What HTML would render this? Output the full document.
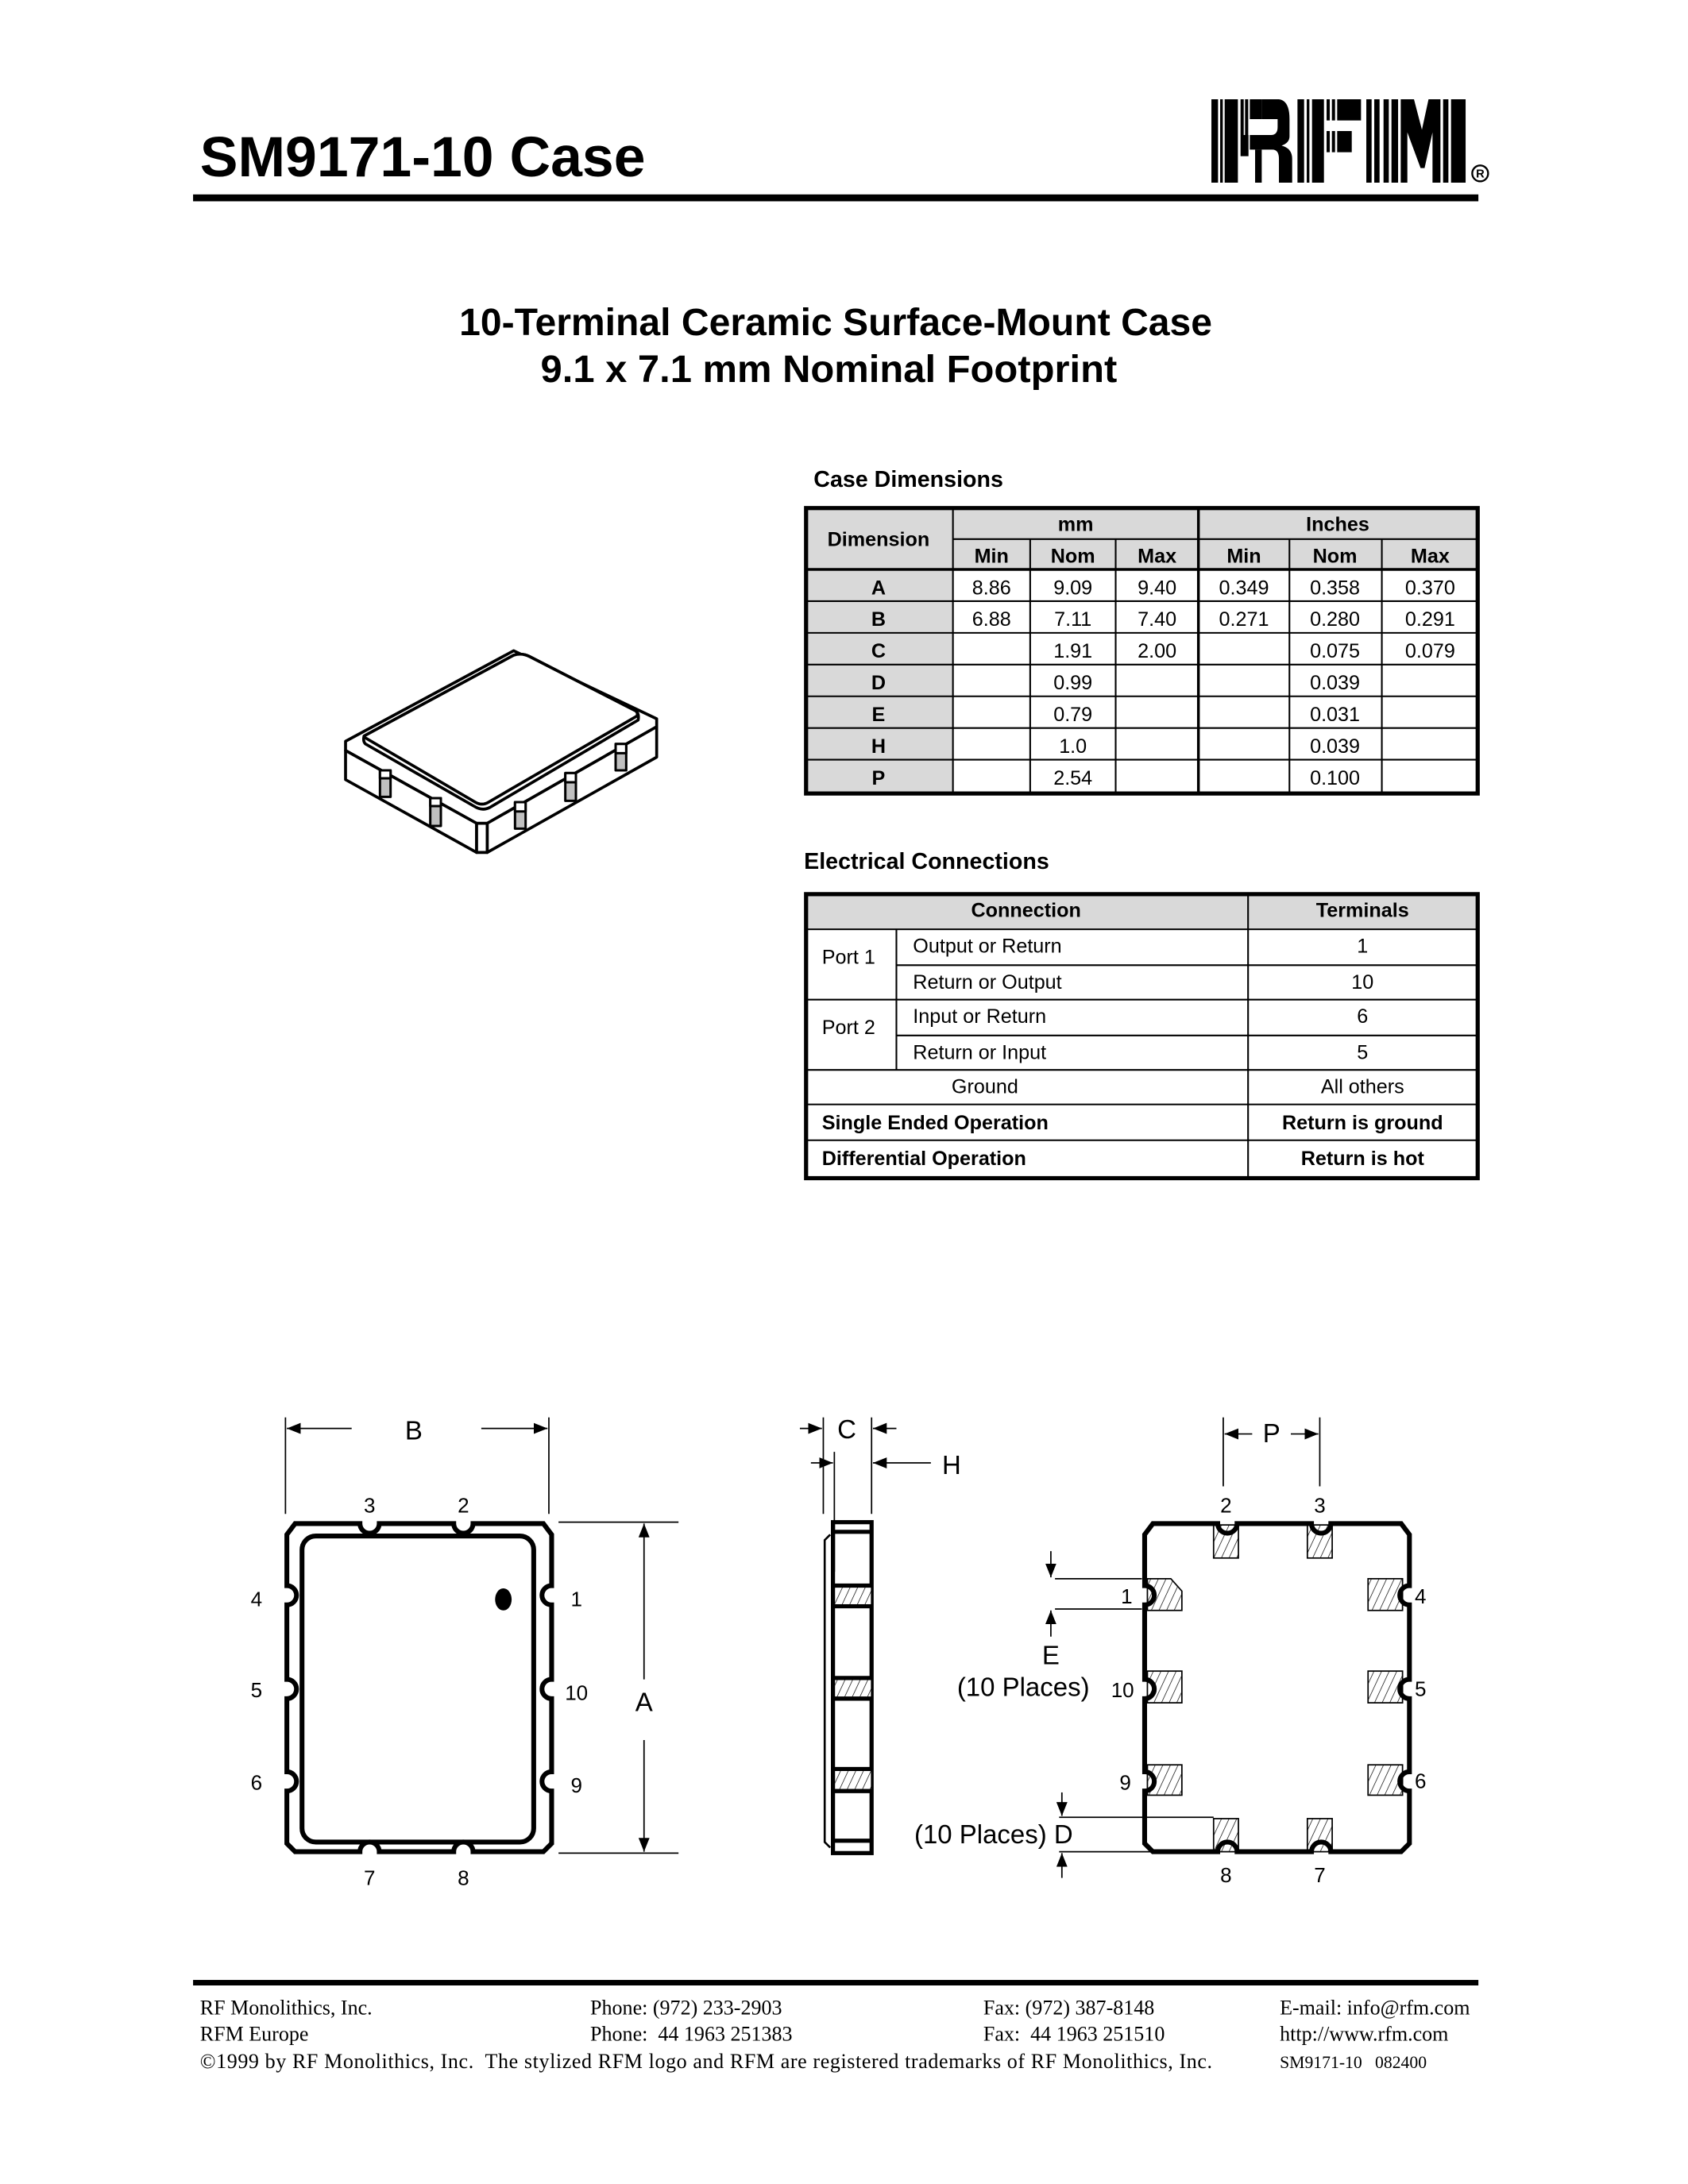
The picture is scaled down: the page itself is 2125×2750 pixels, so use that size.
<!DOCTYPE html>
<html><head><meta charset="utf-8"><style>
html,body{margin:0;padding:0;background:#fff}
svg{display:block}
text{font-family:"Liberation Sans",sans-serif}
.s{font-family:"Liberation Serif",serif;font-size:15px;white-space:pre}
</style></head><body>
<svg width="2125" height="2750" viewBox="0 0 1224 1584" xmlns="http://www.w3.org/2000/svg">
<defs>
<pattern id="h" width="5" height="5" patternUnits="userSpaceOnUse" patternTransform="rotate(25)">
<rect width="5" height="5" fill="#fff"/><line x1="0" y1="0" x2="0" y2="5" stroke="#000" stroke-width="0.8"/></pattern>
<marker id="ar" markerWidth="10" markerHeight="8" refX="10" refY="4" orient="auto" markerUnits="userSpaceOnUse"><path d="M0,0 L10,4 L0,8 Z" fill="#000"/></marker>
</defs>

<!-- Title -->
<text x="145" y="128" font-size="41" font-weight="bold" textLength="323" lengthAdjust="spacingAndGlyphs">SM9171-10 Case</text>
<!-- Logo -->
<g transform="translate(852.5,57.6) scale(0.192)" fill="#000">
<rect x="135" y="75" width="25" height="315"/><rect x="168" y="75" width="10" height="315"/><rect x="185" y="75" width="50" height="315"/>
<rect x="245" y="75" width="12" height="135"/><rect x="262" y="75" width="12" height="135"/><rect x="280" y="75" width="45" height="75"/>
<path d="M325,75 H390 Q430,80 430,150 V215 Q430,240 400,250 Q440,260 440,300 V390 H390 V300 Q390,265 365,265 H280 V210 H360 Q385,210 385,180 V150 H325 Z"/>
<rect x="245" y="210" width="30" height="80"/><rect x="300" y="265" width="25" height="125"/>
<rect x="460" y="75" width="25" height="315"/><rect x="495" y="75" width="10" height="315"/><rect x="515" y="75" width="45" height="315"/>
<rect x="570" y="75" width="12" height="80"/><rect x="590" y="75" width="12" height="80"/><rect x="610" y="75" width="90" height="80"/>
<rect x="570" y="195" width="12" height="80"/><rect x="590" y="195" width="12" height="80"/><rect x="610" y="195" width="55" height="80"/>
<rect x="720" y="75" width="20" height="315"/><rect x="750" y="75" width="20" height="315"/>
<rect x="785" y="75" width="20" height="315"/><rect x="815" y="75" width="25" height="315"/>
<path d="M850,75 H900 L930,190 L955,75 H1000 V390 H970 V200 L940,335 H925 L875,200 V390 H850 Z"/>
<rect x="1010" y="75" width="20" height="315"/><rect x="1040" y="75" width="55" height="315"/>
<circle cx="1150" cy="355" r="30" fill="none" stroke="#000" stroke-width="7"/>
<text x="1150" y="370" font-size="44" text-anchor="middle" font-weight="bold">R</text>
</g>
<rect x="140" y="141" width="932" height="5" fill="#000"/>

<!-- Subtitle -->
<text x="606" y="243" font-size="27.5" font-weight="bold" text-anchor="middle" textLength="546" lengthAdjust="spacingAndGlyphs">10-Terminal Ceramic Surface-Mount Case</text>
<text x="601" y="277" font-size="27.5" font-weight="bold" text-anchor="middle" textLength="418" lengthAdjust="spacingAndGlyphs">9.1 x 7.1 mm Nominal Footprint</text>

<!-- Isometric -->
<g transform="translate(230.4,449.3) scale(0.192)" stroke="#000" stroke-width="11" stroke-linejoin="round" fill="#fff">
<path d="M105,460 L740,118 L1280,375 L1280,405 L640,770 L600,770 L105,495 Z"/>
<path d="M105,495 L600,770 L600,880 L105,605 Z"/>
<path d="M640,770 L1280,405 L1280,520 L640,880 Z"/>
<path d="M600,770 H640 V880 H600 Z"/>
<path d="M175,440 L740,135 Q770,125 800,140 L1200,345 Q1215,355 1210,380 L650,710 Q620,725 590,705 L180,470 Q170,460 175,440 Z"/>
<path d="M175,440 L740,135 Q770,125 800,140 L1200,345 Q1212,352 1205,365 L645,690 Q620,705 595,690 L185,450 Q175,445 175,440 Z"/>
<g fill="#c0c0c0" stroke-width="9">
<rect x="235" y="570" width="40" height="100"/><rect x="425" y="675" width="40" height="105"/>
<rect x="745" y="690" width="40" height="100"/><rect x="935" y="580" width="40" height="105"/><rect x="1125" y="470" width="40" height="100"/>
</g>
<g fill="#fff" stroke-width="9">
<rect x="235" y="570" width="40" height="30"/><rect x="425" y="675" width="40" height="30"/>
<rect x="745" y="690" width="40" height="35"/><rect x="935" y="580" width="40" height="35"/><rect x="1125" y="470" width="40" height="35"/>
</g>
</g>

<!-- Case Dimensions table -->
<text x="590" y="353" font-size="16.5" font-weight="bold">Case Dimensions</text>
<g font-size="14.5">
<rect x="584" y="368" width="487" height="46" fill="#d9d9d9"/>
<rect x="584" y="414" width="107" height="161" fill="#d9d9d9"/>
<g stroke="#000" stroke-width="1.2">
<line x1="691" y1="391" x2="1072" y2="391"/>
<line x1="584" y1="413" x2="1072" y2="413" stroke-width="2"/>
<line x1="584" y1="436" x2="1072" y2="436"/><line x1="584" y1="459" x2="1072" y2="459"/>
<line x1="584" y1="482" x2="1072" y2="482"/><line x1="584" y1="505" x2="1072" y2="505"/>
<line x1="584" y1="528" x2="1072" y2="528"/><line x1="584" y1="551" x2="1072" y2="551"/>
<line x1="691" y1="368" x2="691" y2="575"/><line x1="869" y1="368" x2="869" y2="575" stroke-width="2"/>
<line x1="747" y1="391" x2="747" y2="575"/><line x1="809" y1="391" x2="809" y2="575"/>
<line x1="935" y1="391" x2="935" y2="575"/><line x1="1002" y1="391" x2="1002" y2="575"/>
</g>
<rect x="584.5" y="368.5" width="487" height="207" fill="none" stroke="#000" stroke-width="3"/>
<g font-weight="bold" text-anchor="middle">
<text x="637" y="396">Dimension</text><text x="780" y="385">mm</text><text x="970" y="385">Inches</text>
<text x="719" y="408">Min</text><text x="778" y="408">Nom</text><text x="839" y="408">Max</text>
<text x="902" y="408">Min</text><text x="968" y="408">Nom</text><text x="1037" y="408">Max</text>
<text x="637" y="431">A</text><text x="637" y="454">B</text><text x="637" y="477">C</text><text x="637" y="500">D</text>
<text x="637" y="523">E</text><text x="637" y="546">H</text><text x="637" y="569">P</text>
</g>
<g text-anchor="middle">
<text x="719" y="431">8.86</text><text x="778" y="431">9.09</text><text x="839" y="431">9.40</text><text x="902" y="431">0.349</text><text x="968" y="431">0.358</text><text x="1037" y="431">0.370</text>
<text x="719" y="454">6.88</text><text x="778" y="454">7.11</text><text x="839" y="454">7.40</text><text x="902" y="454">0.271</text><text x="968" y="454">0.280</text><text x="1037" y="454">0.291</text>
<text x="778" y="477">1.91</text><text x="839" y="477">2.00</text><text x="968" y="477">0.075</text><text x="1037" y="477">0.079</text>
<text x="778" y="500">0.99</text><text x="968" y="500">0.039</text>
<text x="778" y="523">0.79</text><text x="968" y="523">0.031</text>
<text x="778" y="546">1.0</text><text x="968" y="546">0.039</text>
<text x="778" y="569">2.54</text><text x="968" y="569">0.100</text>
</g>
</g>

<!-- Electrical Connections -->
<text x="583" y="630" font-size="16.5" font-weight="bold">Electrical Connections</text>
<g font-size="14.5">
<rect x="584" y="649" width="487" height="25" fill="#d9d9d9"/>
<g stroke="#000" stroke-width="1.2">
<line x1="584" y1="674" x2="1072" y2="674"/><line x1="650" y1="700" x2="1072" y2="700"/>
<line x1="584" y1="725" x2="1072" y2="725"/><line x1="650" y1="751" x2="1072" y2="751"/>
<line x1="584" y1="776" x2="1072" y2="776"/><line x1="584" y1="801" x2="1072" y2="801"/>
<line x1="584" y1="827" x2="1072" y2="827"/>
<line x1="650" y1="674" x2="650" y2="776"/><line x1="905" y1="649" x2="905" y2="855"/>
</g>
<rect x="584.5" y="648.5" width="487" height="206" fill="none" stroke="#000" stroke-width="3"/>
<text x="744" y="665" font-weight="bold" text-anchor="middle">Connection</text>
<text x="988" y="665" font-weight="bold" text-anchor="middle">Terminals</text>
<text x="596" y="699">Port 1</text><text x="596" y="750">Port 2</text>
<text x="662" y="691">Output or Return</text><text x="662" y="717">Return or Output</text>
<text x="662" y="742">Input or Return</text><text x="662" y="768">Return or Input</text>
<text x="690" y="793">Ground</text>
<g text-anchor="middle"><text x="988" y="691">1</text><text x="988" y="717">10</text><text x="988" y="742">6</text><text x="988" y="768">5</text><text x="988" y="793">All others</text>
<text x="988" y="819" font-weight="bold">Return is ground</text><text x="988" y="845" font-weight="bold">Return is hot</text></g>
<text x="596" y="819" font-weight="bold">Single Ended Operation</text>
<text x="596" y="845" font-weight="bold">Differential Operation</text>
</g>

<!-- Left package -->
<g fill="none" stroke="#000">
<path stroke-width="3.5" d="M214,1105 H261 A7,7 0 0 0 275,1105 H329 A7,7 0 0 0 343,1105 H394 L400,1113 V1150 A7,7 0 0 0 400,1164 V1218 A7,7 0 0 0 400,1232 V1285 A7,7 0 0 0 400,1299 V1337 L394,1343 H343 A7,7 0 0 0 329,1343 H275 A7,7 0 0 0 261,1343 H214 L208,1337 V1299 A7,7 0 0 0 208,1285 V1232 A7,7 0 0 0 208,1218 V1164 A7,7 0 0 0 208,1150 V1113 Z"/>
<rect x="219" y="1114" width="168" height="222" rx="10" stroke-width="3.5"/>
<g stroke-width="1">
<line x1="207" y1="1028" x2="207" y2="1098"/><line x1="398" y1="1028" x2="398" y2="1098"/>
<line x1="255" y1="1036" x2="208" y2="1036" marker-end="url(#ar)"/><line x1="349" y1="1036" x2="397" y2="1036" marker-end="url(#ar)"/>
<line x1="405" y1="1104" x2="492" y2="1104"/><line x1="405" y1="1344" x2="492" y2="1344"/>
<line x1="467" y1="1218" x2="467" y2="1105" marker-end="url(#ar)"/><line x1="467" y1="1262" x2="467" y2="1343" marker-end="url(#ar)"/>
</g>
</g>
<ellipse cx="365" cy="1160" rx="6" ry="8" fill="#000"/>
<g font-size="15" text-anchor="middle">
<text x="268" y="1097">3</text><text x="336" y="1097">2</text>
<text x="186" y="1165">4</text><text x="186" y="1231">5</text><text x="186" y="1298">6</text>
<text x="418" y="1165">1</text><text x="418" y="1233">10</text><text x="418" y="1300">9</text>
<text x="268" y="1367">7</text><text x="336" y="1367">8</text>
</g>
<g font-size="19" text-anchor="middle"><text x="300" y="1044">B</text><text x="467" y="1241">A</text></g>

<!-- Side view -->
<g fill="none" stroke="#000">
<path d="M602,1113 L598,1117 V1336 L602,1340" stroke-width="1.5"/>
<rect x="604" y="1104" width="28" height="240" stroke-width="3"/>
<g fill="url(#h)" stroke-width="1"><rect x="605" y="1150" width="27" height="14"/><rect x="605" y="1217" width="27" height="14"/><rect x="605" y="1283" width="27" height="15"/></g>
<g stroke-width="3"><line x1="604" y1="1111" x2="632" y2="1111"/><line x1="604" y1="1150" x2="632" y2="1150"/><line x1="604" y1="1165" x2="632" y2="1165"/>
<line x1="604" y1="1217" x2="632" y2="1217"/><line x1="604" y1="1232" x2="632" y2="1232"/><line x1="604" y1="1283" x2="632" y2="1283"/>
<line x1="604" y1="1299" x2="632" y2="1299"/><line x1="604" y1="1335" x2="632" y2="1335"/></g>
<g stroke-width="1">
<line x1="597" y1="1028" x2="597" y2="1098"/><line x1="632" y1="1028" x2="632" y2="1098"/><line x1="605" y1="1053" x2="605" y2="1140"/>
<line x1="580" y1="1036" x2="596" y2="1036" marker-end="url(#ar)"/><line x1="650" y1="1036" x2="633" y2="1036" marker-end="url(#ar)"/>
<line x1="588" y1="1061" x2="604" y2="1061" marker-end="url(#ar)"/><line x1="675" y1="1061" x2="633" y2="1061" marker-end="url(#ar)"/>
</g>
</g>
<g font-size="19" text-anchor="middle"><text x="614" y="1043">C</text><text x="690" y="1069">H</text></g>

<!-- Footprint -->
<g fill="none" stroke="#000">
<g fill="url(#h)" stroke-width="1">
<rect x="880" y="1106" width="18" height="24"/><rect x="948" y="1106" width="18" height="24"/>
<rect x="880" y="1319" width="18" height="24"/><rect x="948" y="1319" width="18" height="24"/>
<path d="M832,1145 H849 L857,1154 V1168 H832 Z"/><rect x="832" y="1212" width="25" height="23"/><rect x="832" y="1280" width="25" height="22"/>
<rect x="992" y="1145" width="25" height="23"/><rect x="992" y="1212" width="25" height="23"/><rect x="992" y="1280" width="25" height="22"/>
</g>
<path stroke-width="3.5" d="M836,1105 H883 A7,7 0 0 0 897,1105 H951 A7,7 0 0 0 965,1105 H1016 L1022,1113 V1150 A7,7 0 0 0 1022,1164 V1218 A7,7 0 0 0 1022,1232 V1285 A7,7 0 0 0 1022,1299 V1337 L1016,1343 H965 A7,7 0 0 0 951,1343 H897 A7,7 0 0 0 883,1343 H836 L830,1337 V1299 A7,7 0 0 0 830,1285 V1232 A7,7 0 0 0 830,1218 V1164 A7,7 0 0 0 830,1150 V1113 Z"/>
<g stroke-width="1">
<line x1="887" y1="1028" x2="887" y2="1078"/><line x1="957" y1="1028" x2="957" y2="1078"/>
<line x1="908" y1="1040" x2="888" y2="1040" marker-end="url(#ar)"/><line x1="936" y1="1040" x2="956" y2="1040" marker-end="url(#ar)"/>
<line x1="765" y1="1145" x2="828" y2="1145"/><line x1="765" y1="1167" x2="828" y2="1167"/>
<line x1="762" y1="1125" x2="762" y2="1144" marker-end="url(#ar)"/><line x1="762" y1="1187" x2="762" y2="1168" marker-end="url(#ar)"/>
<line x1="768" y1="1318" x2="880" y2="1318"/><line x1="768" y1="1343" x2="880" y2="1343"/>
<line x1="770" y1="1300" x2="770" y2="1317" marker-end="url(#ar)"/><line x1="770" y1="1362" x2="770" y2="1344" marker-end="url(#ar)"/>
</g>
</g>
<g font-size="15" text-anchor="middle">
<text x="889" y="1097">2</text><text x="957" y="1097">3</text>
<text x="817" y="1163">1</text><text x="814" y="1231">10</text><text x="816" y="1298">9</text>
<text x="1030" y="1163">4</text><text x="1030" y="1230">5</text><text x="1030" y="1297">6</text>
<text x="889" y="1365">8</text><text x="957" y="1365">7</text>
</g>
<g font-size="19"><text x="922" y="1046" text-anchor="middle">P</text><text x="762" y="1207" text-anchor="middle">E</text>
<text x="742" y="1230" text-anchor="middle">(10 Places)</text><text x="778" y="1337" text-anchor="end">(10 Places) D</text></g>

<!-- Footer -->
<rect x="140" y="1436" width="932" height="4" fill="#000"/>
<text class="s" x="145" y="1461">RF Monolithics, Inc.</text><text class="s" x="428" y="1461">Phone: (972) 233-2903</text><text class="s" x="713" y="1461">Fax: (972) 387-8148</text><text class="s" x="928" y="1461">E-mail: info@rfm.com</text>
<text class="s" x="145" y="1480">RFM Europe</text><text class="s" x="428" y="1480">Phone:  44 1963 251383</text><text class="s" x="713" y="1480">Fax:  44 1963 251510</text><text class="s" x="928" y="1480">http://www.rfm.com</text>
<text class="s" x="145" y="1500" textLength="734" lengthAdjust="spacing">©1999 by RF Monolithics, Inc.  The stylized RFM logo and RFM are registered trademarks of RF Monolithics, Inc.</text>
<text class="s" x="928" y="1500" style="font-size:12.5px">SM9171-10   082400</text>
</svg>
</body></html>
